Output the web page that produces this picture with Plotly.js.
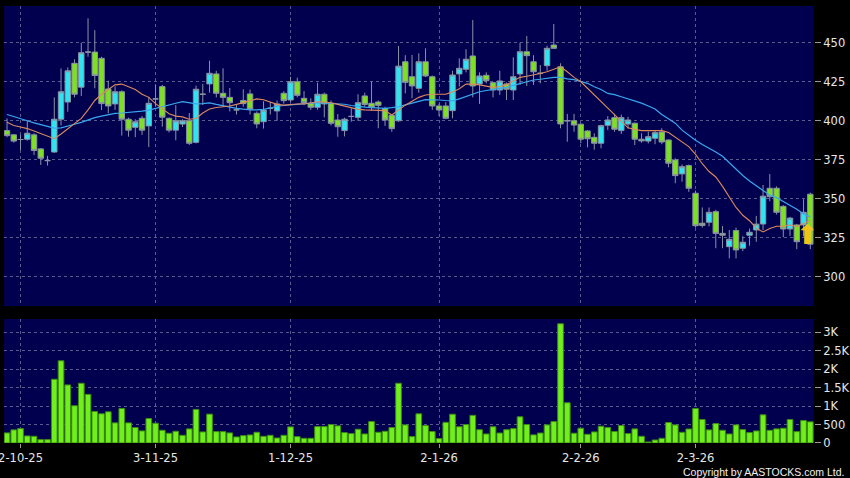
<!DOCTYPE html>
<html><head><meta charset="utf-8">
<script src="https://cdn.plot.ly/plotly-3.0.1.min.js"></script>
<style>html,body{margin:0;padding:0;background:#000;}#chart{width:850px;height:478px;}</style>
</head><body><div id="chart"></div>
<script>
// ---- data ----
const tickIdx = [2, 22, 42, 64, 85, 102];
const tickLabels = ['2-10-25', '3-11-25', '1-12-25', '2-1-26', '2-2-26', '2-3-26'];

const opens = [393.7,391,388,388.2,391,382,374.5,380,401,412, 436.8,421.5,444,444,440,420.4,410.8,418.6,401,395.8,
 401.6,396.7,414,421.9,401.6,394,397.9,400,386.2,417, 423.6,430,417.6,415,407,413,417.2,404.8,399.4,408,
 406.3,417.6,413.3,425,414.4,411.2,408.6,417,411.2,400.5, 393.7,402.8,402.2,415.9,411.2,412,407.8,403.5,400,437.8,
 428.2,420.8,437.8,428.2,409.5,409.5,406.5,430,433,441.5, 423.6,429.1,424.4,419.7,423.6,419.7,430,444.2,437.8,430.4,
 435.3,448.5,434.6,400,400,397.8,393.5,389.4,385.6,397.1, 402,393.7,397.9,398.4,388.2,387,388.8,392.8,387.7,374.9,
 366,371.3,353.6,334.4,335,341.8,327.9,319.4,329.7,318.4, 326.7,330.1,333.9,356.8,356.8,345.2,330.7,333.3,333.3,353];
const highs = [401.5,391.5,391,400,392,382.5,377.5,415,433.5,434.2, 439.4,450,465.6,458,441,425.7,422,419.5,402,401,
 403,415.4,423,423,402,410,401,405,422.5,423.6, 438.5,432,433.6,421,410,420.2,420,406,412.5,412,
 413,419,428.2,427.6,419,414.4,424.4,418,413,404.3, 402,408,417,418,425,413,409,404,447.9,442,
 442.1,443.2,446.4,429,411,412,432,440,445.8,464.5, 431,431,425,432,424.5,440.6,450,454.3,442,435.7,
 448,462,436.8,404.4,404.4,398.5,394,392,397.5,403, 404.5,404,402.5,399,392,393,394,395.2,388,376,
 372,372,355.3,344.5,344.5,343,332.6,330.1,331.6,326, 331,339.1,358.9,365.9,358,346,338.5,334,349.8,354];
const lows = [389.5,386,381.3,387.3,378,371.7,371.3,379.5,397,405.8, 415,415.9,441,420.8,406.9,404.8,407,390.5,389.8,389.5,
 391,383.2,409,396.2,392.5,387.5,396,384.5,385.5,410.1, 418,415,409,406,404,409,404,395.2,395,404,
 400,411,412,415,410,406.9,407,402.2,397,389.8, 390,399.4,400,409,406.5,395.2,396.7,393,399.4,417.6,
 414.4,418,428,407,403.1,401,401.6,422,431,415, 410.8,424,415,416.5,413.3,413.3,423,422.3,423,424,
 432,446,395.2,386.6,393,385.6,383,381.5,382.4,394, 393,391.6,395,384.5,386,385.5,385,385,370.2,360,
 361,354.5,331.6,331.6,332.4,318.4,318.4,311.9,311.9,316.5, 320,322.5,330,348.5,340,325.4,326.3,317.8,326,317.8];
const closes = [390.5,387,388,392,381,376,374.5,401,418.6,432, 417,443.6,444,429,411,409.5,418.6,401,394,399.4,
 394,411.2,414,402.3,394,400,400,385.6,420.2,417, 430.4,417.6,415,411.6,407,411,407.4,398,406.9,408,
 410.8,412.9,425,416.3,411.6,408.6,417,410.8,398.4,396.2, 401,402.8,411.6,410.5,408.6,409.9,400.5,395,435,424.6,
 422.3,437.8,428.7,409.5,406.9,401.6,429.3,433.6,439.4,422.3, 428.7,425.7,419.7,425.5,420.2,428.2,444.2,441.7,431.4,430.4,
 446.4,446.4,398,400,397.3,388.2,388.5,385.6,396.9,400.5, 394.6,402,400.5,388.2,387.1,389.8,392.4,386.4,372.8,364.9,
 370.6,356.8,332.8,333,341.4,327.9,326.7,324.1,317.3,322.2, 328.6,333.8,351.7,351.4,341.4,330.7,337.7,322.6,341.4,321];
const volumes = [273,355,391,191,182,91,91,1727,2227,1573, 1009,1618,1318,855,791,845,545,936,545,418,
 327,664,536,345,264,318,209,382,909,300, 782,309,309,273,164,200,218,291,182,209,
 136,209,436,173,127,127,445,445,500,464, 282,255,373,245,582,291,318,418,1618,491,
 173,791,473,310,120,560,780,440,500,750, 360,245,440,270,360,390,710,500,220,270,
 490,580,3230,1090,265,400,236,300,455,418, 310,473,255,382,182,27,82,127,555,490,
 290,380,936,636,355,527,345,245,490,364, 282,327,764,345,382,400,636,309,609,573];
const ma10 = [399,397,396,395,393.5,392,390,388.5,391.5,395, 398,401.5,407,413,417,420,423,423.5,422,420,
 417,415,411,407.5,404.5,403,402.5,401,401.5,405, 407.5,408.5,409,409.5,410.5,411.5,413,414,413.5,412,
 410.5,410,410.5,410.7,410.8,411.5,412.2,412,411.6,410.5, 409.5,408.5,407.3,407,406.9,406.7,406.5,403.7,407,410,
 412.5,415,416.5,417,417,417,418.5,420.5,423.5,423.5, 423,422,421.4,422,423,425.5,427.8,428.5,429.3,430.3,
 431.4,433,434.6,431.4,427.8,425,420.8,416.5,412.5,408, 404,399.5,395.5,394.5,393.7,393.7,393.7,393.7,392.5,389.5,
 386.5,383.5,378.5,372.5,367.5,364,358,351.5,344.5,339.5, 336,331.2,328.8,331,332.5,332.5,333.3,332.3,334.4,336];
const ma20 = [404,402.5,401.5,400,398.7,397.5,396.5,395.3,395.5,396.5, 397.8,399,400.5,402,403,404,404.8,405,405.3,405.6,
 406.2,406.8,408,409,410,411.2,412.2,411.5,410.8,411, 411.5,410.5,409.6,408.8,408,407.5,407,407,407.3,408.2,
 409.3,409.8,410.1,410.4,410.8,411.2,411.6,411.4,411.2,411, 410.6,409.8,409.1,408.7,408.4,408.2,408,408.4,409,410.2,
 411.5,412.4,413.5,413.6,413.3,413,412.8,414,415.4,417, 418.6,419.4,420.2,420.8,421.4,422.7,424,425,426.1,426.6,
 427.2,427.8,427.8,426.8,426.3,425,424,421.8,420,417.5, 416.7,415.4,414,413,411.3,409.5,407.5,404,401.2,398.5,
 394,390.5,387.5,384.8,382.5,380,377.3,373,369,365, 361.5,358.3,355.3,352.5,350.8,348.3,346,343.3,340.3,338.5];

// ---- chart ----
const idx = closes.map((_, i) => i);
const n = closes.length;
const gridCol = '#5a5a8e';
const tickFont = {family: 'DejaVu Sans, Verdana, sans-serif', size: 11.5, color: '#e6e6e6'};

const traces = [
  {type: 'candlestick', x: idx, open: opens, high: highs, low: lows, close: closes,
   xaxis: 'x', yaxis: 'y', whiskerwidth: 0, hoverinfo: 'skip', showlegend: false,
   increasing: {fillcolor: '#2fe4f0', line: {color: '#8a93a3', width: 1}},
   decreasing: {fillcolor: '#7ee022', line: {color: '#8a93a3', width: 1}}},
  {type: 'scatter', mode: 'lines', x: idx, y: ma20, xaxis: 'x', yaxis: 'y',
   line: {color: '#3aa8f0', width: 1.2}, hoverinfo: 'skip', showlegend: false},
  {type: 'scatter', mode: 'lines', x: idx, y: ma10, xaxis: 'x', yaxis: 'y',
   line: {color: '#dc8a5e', width: 1.1}, hoverinfo: 'skip', showlegend: false},
  {type: 'bar', x: idx, y: volumes, xaxis: 'x2', yaxis: 'y2',
   marker: {color: '#70ef1c', line: {color: '#3d8c12', width: 1}},
   hoverinfo: 'skip', showlegend: false}
];

const layout = {
  width: 850, height: 478,
  paper_bgcolor: '#000000', plot_bgcolor: '#00004f',
  margin: {l: 4, r: 36, t: 6, b: 35},
  showlegend: false, boxgap: 0.2, boxgroupgap: 0, bargap: 0.16,
  xaxis: {domain: [0, 1], anchor: 'y', range: [-0.45, 119.55], tickvals: tickIdx,
          showticklabels: false, ticks: '', showgrid: true, gridcolor: gridCol, griddash: '3px,3px',
          gridwidth: 1, zeroline: false, showline: false, rangeslider: {visible: false}, fixedrange: true},
  xaxis2: {domain: [0, 1], anchor: 'y2', matches: 'x', range: [-0.45, 119.55], tickvals: tickIdx,
           ticktext: tickLabels, ticks: 'outside', ticklen: 4, tickcolor: '#9a9a9a',
           ticklabeloverflow: 'allow',
           tickfont: tickFont, showgrid: true, gridcolor: gridCol, griddash: '3px,3px',
           zeroline: false, showline: false},
  yaxis: {domain: [0.3135, 1], anchor: 'x', range: [281.4, 473.5], side: 'right',
          tickvals: [300, 325, 350, 375, 400, 425, 450], ticks: 'outside', ticklen: 6, tickcolor: '#9a9a9a',
          tickfont: tickFont, showgrid: true, gridcolor: gridCol, griddash: '3px,3px',
          zeroline: false, showline: false},
  yaxis2: {domain: [0, 0.2838], anchor: 'x2', range: [0, 3360], side: 'right',
           tickvals: [0, 500, 1000, 1500, 2000, 2500, 3000],
           ticktext: ['0', '500', '1K', '1.5K', '2K', '2.5K', '3K'],
           ticks: 'outside', ticklen: 6, tickcolor: '#9a9a9a', ticklabeloverflow: 'allow',
           tickfont: tickFont, showgrid: true, gridcolor: gridCol, griddash: '3px,3px',
           zeroline: false, showline: false},
  annotations: [
    {xref: 'paper', yref: 'paper', x: 1, y: 0, xanchor: 'right', yanchor: 'middle',
     xshift: 32, yshift: -29, showarrow: false, text: 'Copyright by AASTOCKS.com Ltd.',
     font: {family: 'Liberation Sans, Arial, sans-serif', size: 10.5, color: '#f0f0f0'}},
    {xref: 'x', yref: 'y', x: n - 1, y: closes[n - 1], xanchor: 'center', yanchor: 'bottom',
     xshift: -3, yshift: -8, showarrow: false, text: '⬆',
     font: {family: 'DejaVu Sans, sans-serif', size: 27, color: '#f2c21a'}}
  ]
};

Plotly.newPlot('chart', traces, layout, {staticPlot: true, displayModeBar: false});
</script>
</body></html>
